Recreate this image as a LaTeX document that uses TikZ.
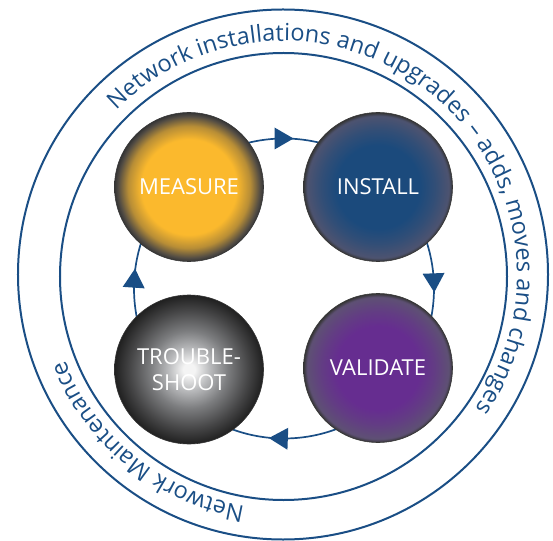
\documentclass[tikz,border=0pt]{standalone}
\usepackage{fontspec}
\setmainfont{Open Sans}
\usetikzlibrary{decorations.text,decorations.markings}
\definecolor{ringblue}{HTML}{1A4E85}
\definecolor{rimc}{HTML}{353535}
\definecolor{ylw}{HTML}{FBB92D}
\definecolor{ylwdark}{HTML}{524C44}
\colorlet{ylwmid}{ylw!60!ylwdark}
\definecolor{insblue}{HTML}{1B4A7C}
\definecolor{insedge}{HTML}{4D5370}
\colorlet{insmid}{insblue!55!insedge}
\definecolor{valpurple}{HTML}{662D90}
\definecolor{valedge}{HTML}{5E5074}
\colorlet{valmid}{valpurple!55!valedge}
\definecolor{trwhite}{HTML}{F4F4F4}
\definecolor{trlight}{HTML}{B9BABC}
\definecolor{trmid}{HTML}{7C7D7F}
\definecolor{trdark}{HTML}{454546}
\definecolor{trblack}{HTML}{202020}
\pgfdeclareradialshading{shmeasure}{\pgfpoint{0bp}{0bp}}{color(0bp)=(ylw); color(16bp)=(ylw); color(20.5bp)=(ylwmid); color(23.8bp)=(ylwdark); color(25bp)=(rimc); color(50bp)=(rimc)}
\pgfdeclareradialshading{shinstall}{\pgfpoint{0bp}{0bp}}{color(0bp)=(insblue); color(14bp)=(insblue); color(19bp)=(insmid); color(23.8bp)=(insedge); color(25bp)=(rimc); color(50bp)=(rimc)}
\pgfdeclareradialshading{shvalidate}{\pgfpoint{0bp}{0bp}}{color(0bp)=(valpurple); color(14bp)=(valpurple); color(19bp)=(valmid); color(23.8bp)=(valedge); color(25bp)=(rimc); color(50bp)=(rimc)}
\pgfdeclareradialshading{shtrouble}{\pgfpoint{0bp}{0bp}}{color(0bp)=(trwhite); color(2bp)=(trwhite); color(7bp)=(trlight); color(13bp)=(trmid); color(20bp)=(trdark); color(25bp)=(trblack); color(50bp)=(trblack)}
\newcommand\ringfont{\fontsize{23.5}{28}\selectfont}
\newcommand\cyctri{\fill[ringblue] (9.5pt,0pt) -- (-9.5pt,11pt) -- (-9.5pt,-11pt) -- cycle;}
\begin{document}
\begin{tikzpicture}[x=1pt,y=1pt,
  ring/.style={draw=ringblue, line width=2pt},
  cycleline/.style={draw=ringblue, line width=1.7pt},
  ball/.style={circle, minimum size=149pt, inner sep=0pt, draw=rimc, line width=0.6pt,
    text=white, font=\fontsize{22}{26.5}\selectfont, align=center},
  ringtext/.style={decorate, decoration={text along path, text align=center, text color=ringblue, text={#1}}}]
\useasboundingbox (-283,-265) rectangle (270,275);
\coordinate (ctr) at (0,0);
\coordinate (outerc) at (0,0.5);
\coordinate (innerc) at (0.5,-1.5);
\coordinate (cyc) at (1,-13.5);
% rings
\draw[ring] (outerc) circle[radius=265];
\draw[ring] (innerc) circle[radius=223.5];
% ring texts
\path[ringtext={|\ringfont|Network installations and upgrades – adds, moves and changes}]
  (ctr) ++(145:234) arc[start angle=145, end angle=-44.5, radius=234];
\path[ringtext={|\ringfont|Network Maintenance}]
  (ctr) ++(-90:234) arc[start angle=-90, end angle=-168, radius=234];
% cycle with arrows
\draw[cycleline, postaction={decorate}, decoration={markings,
    mark=at position 0.125 with {\cyctri},
    mark=at position 0.369 with {\cyctri},
    mark=at position 0.631 with {\cyctri},
    mark=at position 0.886 with {\cyctri}}]
  (cyc) ++(135:150) arc[start angle=135, end angle=-225, radius=150];
% balls
\node[ball, shading=shmeasure] (measure) at (-94,88) {MEASURE};
\node[ball, shading=shinstall] (install) at (95,88) {INSTALL};
\node[ball, shading=shvalidate] (validate) at (95,-93) {VALIDATE};
\node[ball, shading=shtrouble] (trouble) at (-94,-94.5) {TROUBLE-\\SHOOT};
\end{tikzpicture}
\end{document}
